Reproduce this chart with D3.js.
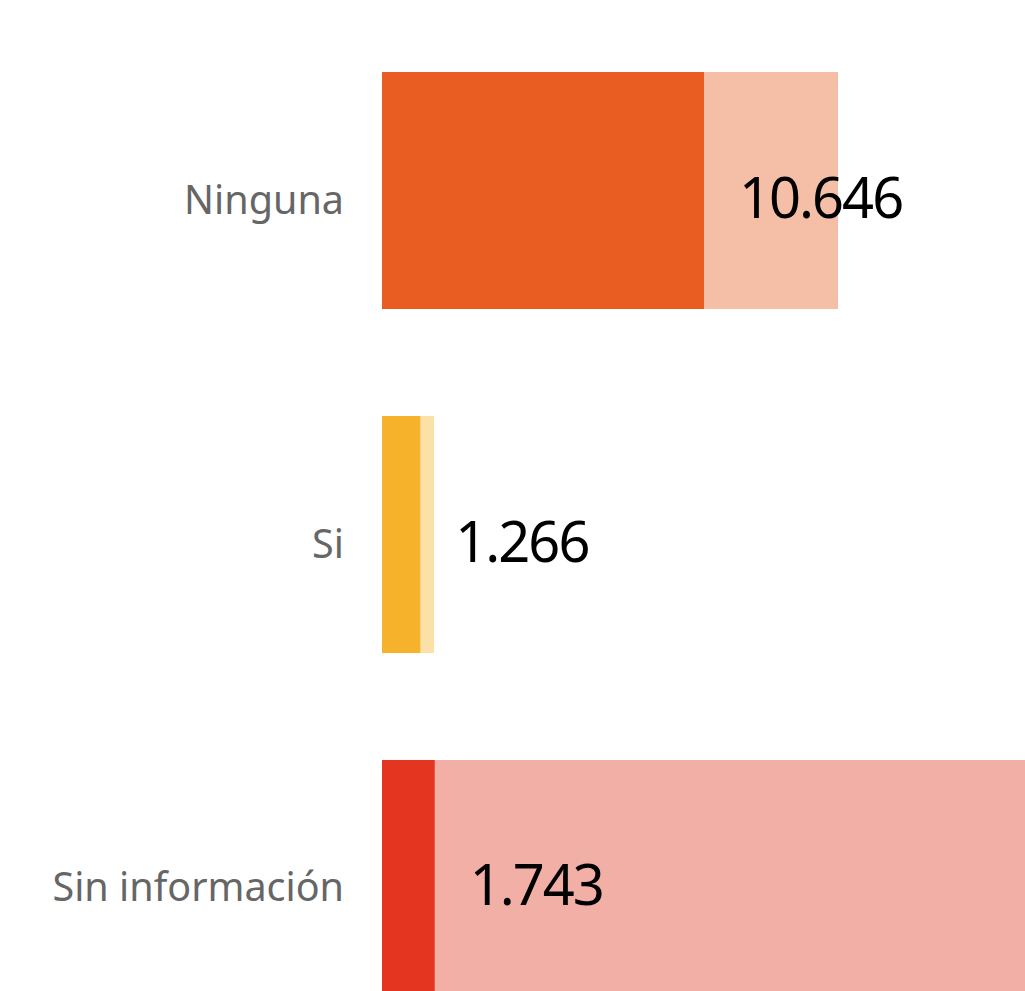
<!DOCTYPE html>
<html>
<head>
<meta charset="utf-8">
<script src="https://cdn.jsdelivr.net/npm/d3@7"></script>
<style>
  body { margin: 0; background: #fff; overflow: hidden; }
  .cat { font-family: "Noto Sans", "Open Sans", sans-serif; fill: #666; }
  .val { font-family: "Noto Sans", "Open Sans", sans-serif; fill: #000; }
</style>
</head>
<body>
<div id="chart"></div>
<script>
// Data
const categories = ['Ninguna', 'Si', 'Sin información'];
const values = [10646, 1266, 1743];
// background (light) bars
const backValues = [15076, 1720, 23000];
const darkColours = ['#E95D22', '#F6B22A', '#E33520'];
const lightColours = ['#F5BEA7', '#FBE0A8', '#F2AFA6'];

const width = 1025;
const height = 991;

const svg = d3.select("#chart").append("svg")
    .attr("width", width)
    .attr("height", height);

const data = categories.map((c, i) => ({
  name: c,
  value: values[i],
  back: backValues[i],
  dark: darkColours[i],
  light: lightColours[i]
}));

const x = d3.scaleLinear()
    .domain([0, 10646])
    .range([382, 704]);

const y = d3.scaleBand()
    .domain(categories)
    .range([72, 997])
    .paddingInner(0.311);

const fmt = d3.formatLocale({decimal: ',', thousands: '.', grouping: [3], currency: ['', '']}).format(',');

// light bars
svg.selectAll('rect.back')
    .data(data)
    .enter()
    .append('rect')
    .attr('class', 'back')
    .attr('x', x(0))
    .attr('y', d => y(d.name))
    .attr('width', d => x(d.back) - x(0))
    .attr('height', y.bandwidth())
    .style('fill', d => d.light);

// dark bars
svg.selectAll('rect.bar')
    .data(data)
    .enter()
    .append('rect')
    .attr('class', 'bar')
    .attr('x', x(0))
    .attr('y', d => y(d.name))
    .attr('width', d => x(d.value) - x(0))
    .attr('height', y.bandwidth())
    .style('fill', d => d.dark);

// category labels
svg.selectAll('text.cat')
    .data(data)
    .enter()
    .append('text')
    .attr('class', 'cat')
    .attr('x', x(0) - 38)
    .attr('y', d => y(d.name) + y.bandwidth() / 2 + 23)
    .attr('text-anchor', 'end')
    .style('font-size', '39.5px')
    .text(d => d.name);

// value labels
svg.selectAll('text.val')
    .data(data)
    .enter()
    .append('text')
    .attr('class', 'val')
    .attr('x', d => x(d.value) + 35)
    .attr('y', d => y(d.name) + y.bandwidth() / 2 + 27)
    .style('font-size', '56px')
    .style('letter-spacing', '-2px')
    .text(d => fmt(d.value));
</script>
</body>
</html>
